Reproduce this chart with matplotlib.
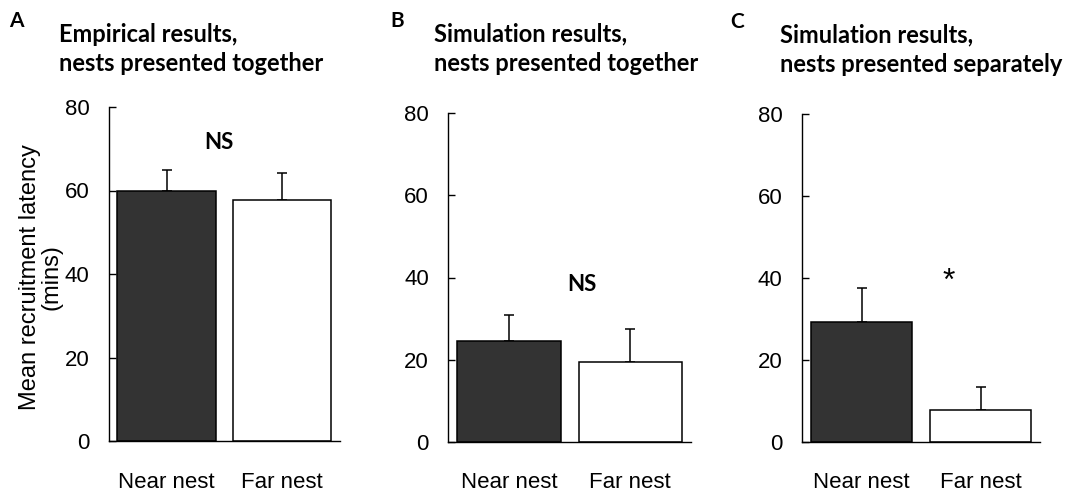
import matplotlib
matplotlib.use("Agg")
import matplotlib.pyplot as plt

categories = ["Near nest", "Far nest"]
panel_letters = ["A", "B", "C"]
titles = [["Empirical results,", "nests presented together"],
          ["Simulation results,", "nests presented together"],
          ["Simulation results,", "nests presented separately"]]
means_A = [60.0, 57.7]
errs_A = [4.8, 6.6]
means_B = [24.5, 19.4]
errs_B = [6.4, 8.1]
means_C = [29.3, 7.8]
errs_C = [8.3, 5.6]
annotations = ["NS", "NS", "*"]
annot_x = [0.45, 0.6, 0.73]
annot_y = [71.4, 38.4, 39.0]
yticks = [0, 20, 40, 60, 80]
ylabel = "Mean recruitment latency\n(mins)"

W, H = 1077, 492
fig = plt.figure(figsize=(W / 100, H / 100), dpi=100)

# axes boxes in pixels: left, right, bottom(y=0), top(y=80)
boxes = [(108.7, 340.0, 441.0, 107.0),
         (448.3, 691.0, 441.7, 113.3),
         (802.0, 1040.3, 441.7, 114.3)]
letter_pos = [(9.5, 26.7), (390, 27.3), (730.3, 28.3)]
title_pos = [(58.7, 42.3, 70.7), (434, 41.9, 71.2), (779.7, 42.5, 71.5)]

tick_font = "Liberation Sans"
title_font = "Lato"
tick_size = 16

data = [(means_A, errs_A), (means_B, errs_B), (means_C, errs_C)]
for i, (box, (m, e)) in enumerate(zip(boxes, data)):
    l, r, b, t = box
    ax = fig.add_axes([l / W, 1 - b / H, (r - l) / W, (b - t) / H])
    xs = [0, 1]
    ax.bar(xs, m, width=0.85, color=["#333333", "white"], edgecolor="black",
           linewidth=1.1, zorder=2)
    ax.errorbar(xs, m, yerr=[[0, 0], e], fmt="none", ecolor="black",
                elinewidth=1.1, capsize=3.5, capthick=1.1, zorder=1)
    ax.set_xlim(-0.5, 1.5)
    ax.set_ylim(0, 80)
    ax.set_yticks(yticks)
    ax.set_xticks(xs)
    ax.set_xticklabels(categories, fontfamily=tick_font, fontsize=tick_size)
    ax.tick_params(axis="y", direction="in", length=5, width=1.0, pad=14,
                   labelsize=tick_size)
    for lab in ax.get_yticklabels():
        lab.set_fontfamily(tick_font)
    ax.tick_params(axis="x", length=0, pad=22)
    for s in ["top", "right"]:
        ax.spines[s].set_visible(False)
    for s in ["left", "bottom"]:
        ax.spines[s].set_linewidth(1.0)
    if annotations[i] == "*":
        ax.text(annot_x[i], annot_y[i], annotations[i], ha="center", va="center",
                fontsize=23, fontfamily=tick_font, zorder=3)
    else:
        ax.text(annot_x[i], annot_y[i], annotations[i], ha="center", va="center",
                fontsize=16, fontweight="bold", fontfamily=title_font, zorder=3)
    lx, ly = letter_pos[i]
    fig.text(lx / W, 1 - ly / H, panel_letters[i], fontsize=15, fontweight="bold",
             fontfamily=title_font, ha="left", va="baseline")
    tx, ty1, ty2 = title_pos[i]
    fig.text(tx / W, 1 - ty1 / H, titles[i][0], fontsize=17, fontweight="bold",
             fontfamily=title_font, ha="left", va="baseline")
    fig.text(tx / W, 1 - ty2 / H, titles[i][1], fontsize=17, fontweight="bold",
             fontfamily=title_font, ha="left", va="baseline")

fig.text(41 / W, 1 - 277 / H, ylabel, rotation=90, ha="center", va="center",
         fontfamily=tick_font, fontsize=17, linespacing=1.0,
         multialignment="center")

fig.savefig("out.png", dpi=100)
